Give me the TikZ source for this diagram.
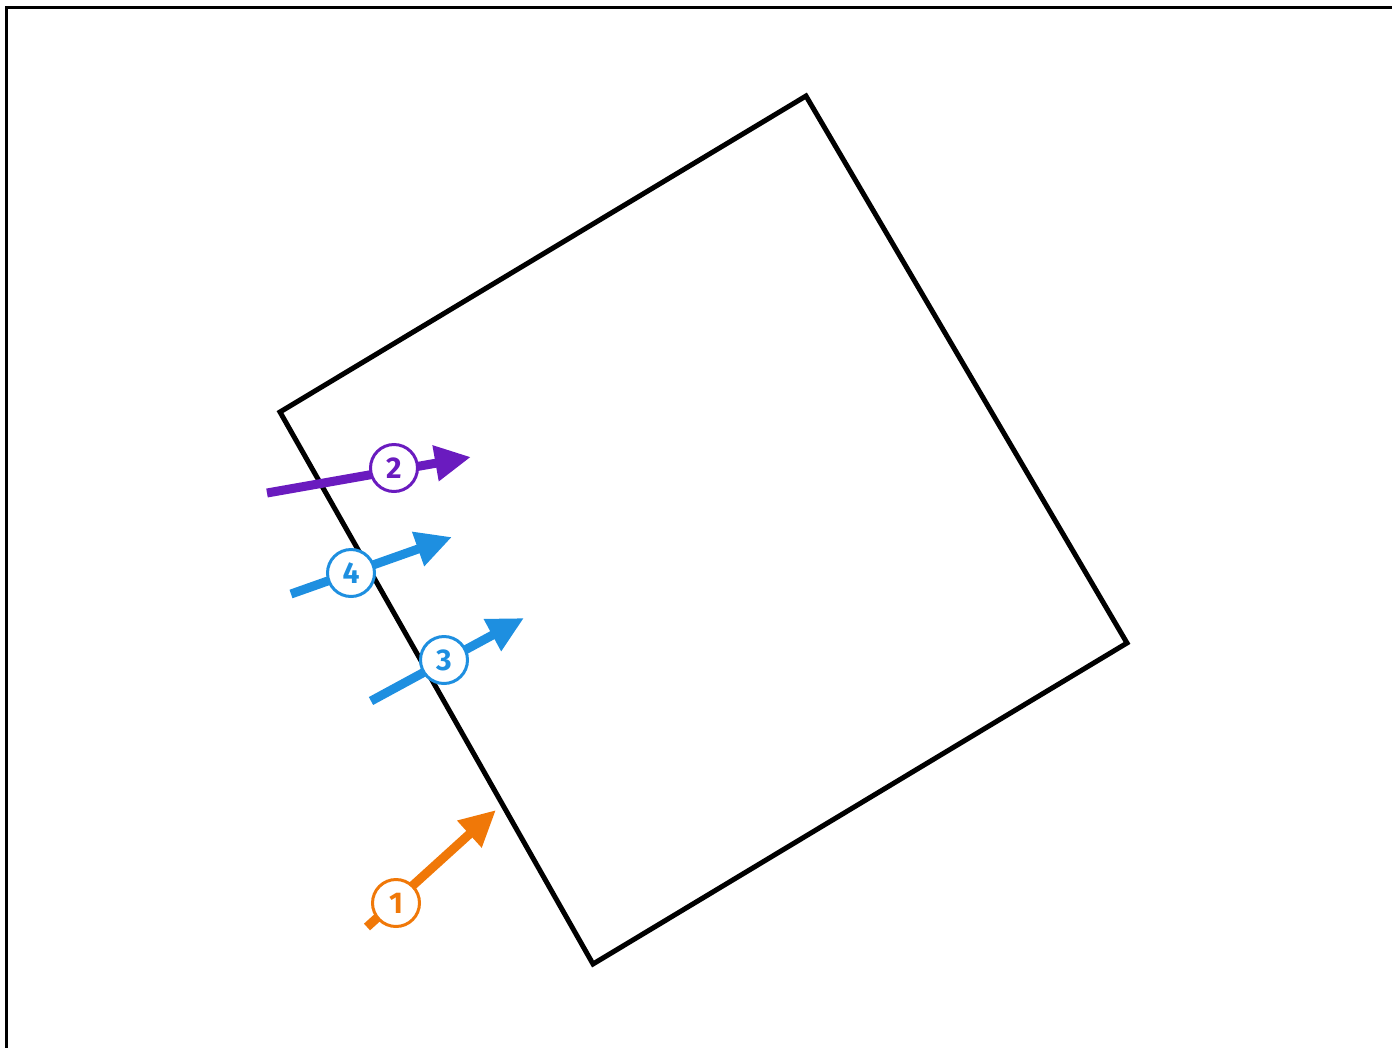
\documentclass[tikz,border=0pt]{standalone}
\usepackage{fontspec}
\setmainfont{Fira Sans}
\usetikzlibrary{arrows.meta}
\definecolor{cpurple}{HTML}{6A1BBF}
\definecolor{cblue}{HTML}{1E8FE0}
\definecolor{corange}{HTML}{F07808}
\tikzset{
  flow/.style={line width=9pt, -{Triangle[length=36pt,width=34pt]}},
  badge/.style={circle, draw=#1, fill=white, line width=3pt, minimum size=47pt, inner sep=0pt,
    text=#1, font=\bfseries\fontsize{30}{30}\selectfont},
  outline/.style={line width=5pt, line join=miter},
  frame/.style={line width=3.5pt}
}
\begin{document}
\begin{tikzpicture}[x=1pt,y=-1pt]
\useasboundingbox (0,0) rectangle (1392,1047);
\draw[frame] (6.5,1060) -- (6.5,7.5) -- (1400,7.5);
\coordinate (A) at (806,96);
\coordinate (B) at (1127,643);
\coordinate (C) at (593,964);
\coordinate (D) at (280,412);
\draw[outline] (A) -- (B) -- (C) -- (D) -- cycle;
% arrow 2
\coordinate (t2) at (267,493);
\coordinate (h2) at (471,457);
\draw[flow, cpurple] (t2) -- (h2);
\node[badge=cpurple] (n2) at (394,468) {2};
% arrow 4
\coordinate (t4) at (291,594);
\coordinate (h4) at (452,537);
\draw[flow, cblue] (t4) -- (h4);
\node[badge=cblue] (n4) at (351,573) {4};
% arrow 3
\coordinate (t3) at (371,701);
\coordinate (h3) at (524,618);
\draw[flow, cblue] (t3) -- (h3);
\node[badge=cblue] (n3) at (444,660) {3};
% arrow 1
\coordinate (t1) at (367,927);
\coordinate (h1) at (496,810);
\draw[flow, corange] (t1) -- (h1);
\node[badge=corange] (n1) at (396,903) {1};
\end{tikzpicture}
\end{document}
